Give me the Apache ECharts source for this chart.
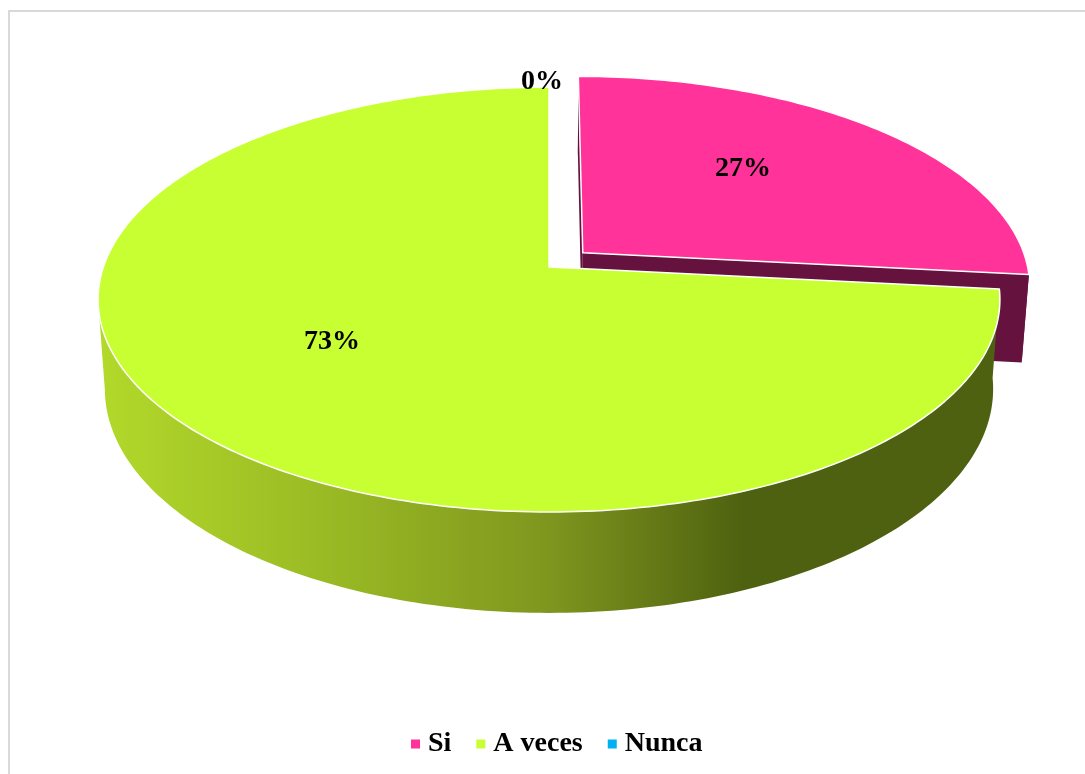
<!DOCTYPE html>
<html>
<head>
<meta charset="utf-8">
<title>Pie</title>
<script src="https://cdn.jsdelivr.net/npm/echarts@6/dist/echarts.min.js"></script>
<style>
html,body{margin:0;padding:0;background:#fff;overflow:hidden}
#pie{width:1085px;height:774px}
</style>
</head>
<body>
<div id="pie"></div>
<script>
var names=['Si','A veces','Nunca'];
var percents=[26.67,73.33,0];
var sliceColors=['#ff3399','#c8ff33','#00b0f0'];
var wallColors=['#66123f',null,null];
var explode=[0.103,0,0];
// where each % label sits: angle clockwise from top, radius as part of the pie radius
var labelAngle=[41,234.2,359];
var labelRadius=[0.6,0.57,1.045];

// pie projection (perspective circle + extruded base)
var cx=549,cy=267,scaleX=445.6,scaleY=207.5,persp=0.153;
var baseX=0.985,baseY=1.054,baseDrop=87.7;
var font='"Liberation Serif","Times New Roman",serif';

var greenWall=new echarts.graphic.LinearGradient(105,0,992,0,[
    {offset:0,color:'#b2d82a'},
    {offset:0.25,color:'#9aba24'},
    {offset:0.5,color:'#7f961e'},
    {offset:0.72,color:'#4e6110'},
    {offset:1,color:'#4e6110'}
],true);

function project(u,v){
    var w=1+persp*v;
    return [cx+scaleX*u/w,cy-scaleY*v/w];
}
function toBase(p){
    return [cx+baseX*(p[0]-cx),cy+baseDrop+baseY*(p[1]-cy)];
}
function piePoint(index,deg,r){
    var a=deg*Math.PI/180,m=midAngle(index)*Math.PI/180,d=explode[index];
    return project(d*Math.sin(m)+r*Math.sin(a),d*Math.cos(m)+r*Math.cos(a));
}
function startAngle(index){
    var sum=0;
    for(var i=0;i<index;i++){sum+=percents[i];}
    return sum*3.6;
}
function midAngle(index){
    return startAngle(index)+percents[index]*1.8;
}
function rimPoints(index){
    var from=startAngle(index),to=from+percents[index]*3.6,list=[];
    for(var deg=from;deg<to;deg+=1){list.push(piePoint(index,deg,1));}
    list.push(piePoint(index,to,1));
    return list;
}
// top edge + base edge; the rim stops at its leftmost point so the silhouette gets filled
function extrude(points){
    var cut=0;
    for(var i=1;i<points.length;i++){
        if(points[i][0]<points[cut][0]){cut=i;}
    }
    var front=cut>0?points.slice(0,cut+1):points;
    return front.concat(front.map(toBase).reverse());
}

function renderSlice(params,api){
    var index=params.seriesIndex;
    var children=[];
    if(api.value(0)>0){
        var rim=rimPoints(index);
        var apex=piePoint(index,0,0);
        var wallFill=wallColors[index]||greenWall;
        if(explode[index]>0){
            children.push({type:'polygon',shape:{points:[apex,rim[0],toBase(rim[0]),toBase(apex)]},style:{fill:wallFill}});
            children.push({type:'polygon',shape:{points:[apex,rim[rim.length-1],toBase(rim[rim.length-1]),toBase(apex)]},style:{fill:wallFill}});
        }
        children.push({type:'polygon',shape:{points:extrude(rim)},style:{fill:wallFill}});
        children.push({type:'polygon',shape:{points:[apex].concat(rim)},
            style:{fill:sliceColors[index],stroke:'#ffffff',lineWidth:1.5,lineJoin:'round'}});
    }
    var at=piePoint(index,labelAngle[index],labelRadius[index]);
    children.push({type:'text',x:at[0],y:at[1]+2,z2:10,style:{
        text:Math.round(api.value(0))+'%',font:'bold 28px '+font,fill:'#000',align:'center',verticalAlign:'middle'
    }});
    return {type:'group',children:children};
}

var series=[];
for(var i=0;i<names.length;i++){
    series.push({
        type:'custom',
        name:names[i],
        coordinateSystem:'none',
        silent:true,
        animation:false,
        z:2+i,
        itemStyle:{color:sliceColors[i]},
        renderItem:renderSlice,
        data:[[percents[i]]]
    });
}

var myPie=echarts.init(document.getElementById('pie'),null,{renderer:'canvas'});
myPie.setOption({
    backgroundColor:'#fff',
    animation:false,
    graphic:[{
        type:'rect',
        shape:{x:9,y:11,width:1100,height:800},
        style:{fill:'none',stroke:'#d9d9d9',lineWidth:2},
        silent:true
    }],
    legend:{
        left:411,
        top:730,
        padding:0,
        icon:'rect',
        itemWidth:9,
        itemHeight:9,
        itemGap:25,
        data:names,
        textStyle:{fontFamily:font,fontWeight:'bold',fontSize:28,color:'#000',padding:[0,0,0,3]}
    },
    series:series
});
</script>
</body>
</html>
